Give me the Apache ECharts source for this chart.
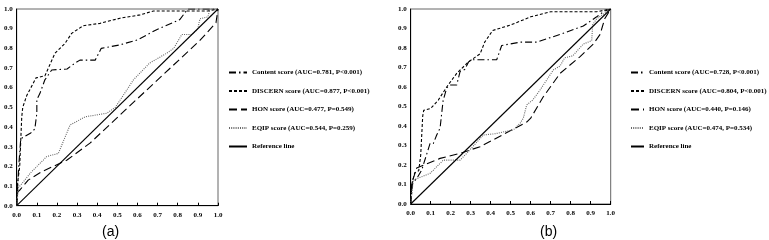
<!DOCTYPE html>
<html>
<head>
<meta charset="utf-8">
<script src="https://cdn.jsdelivr.net/npm/echarts@6/dist/echarts.min.js"></script>
<style>
  html, body { margin: 0; padding: 0; background: #fff; }
  #chart { width: 769px; height: 240px; }
</style>
</head>
<body>
<div id="chart"></div>
<script>
// axis ticks (both panels)
const tickValues = [0, 0.1, 0.2, 0.3, 0.4, 0.5, 0.6, 0.7, 0.8, 0.9, 1.0];

// panel (a): [1 - specificity, sensitivity]
const contentA = [[0,0],[0.005,0.1],[0.01,0.2],[0.02,0.34],[0.07,0.37],[0.09,0.39],[0.1,0.47],[0.1,0.54],[0.115,0.57],[0.14,0.64],[0.174,0.69],[0.25,0.695],[0.29,0.725],[0.314,0.74],[0.39,0.74],[0.42,0.8],[0.51,0.817],[0.6,0.843],[0.695,0.895],[0.81,0.946],[0.85,1.0],[1,1]];
const discernA = [[0,0],[0.005,0.12],[0.015,0.2],[0.02,0.33],[0.025,0.45],[0.03,0.5],[0.05,0.56],[0.096,0.65],[0.14,0.66],[0.19,0.775],[0.24,0.825],[0.273,0.876],[0.33,0.915],[0.414,0.927],[0.513,0.953],[0.613,0.97],[0.68,0.99],[0.95,0.99],[1,1]];
const honA = [[0,0],[0.005,0.07],[0.016,0.08],[0.057,0.13],[0.124,0.173],[0.25,0.232],[0.364,0.318],[0.54,0.487],[0.91,0.84],[0.99,0.93],[1,1]];
const eqipA = [[0,0],[0.008,0.09],[0.074,0.173],[0.132,0.232],[0.149,0.25],[0.207,0.266],[0.265,0.41],[0.34,0.452],[0.447,0.47],[0.49,0.5],[0.58,0.64],[0.66,0.725],[0.745,0.775],[0.78,0.8],[0.82,0.87],[0.87,0.87],[0.9,0.9],[0.91,0.95],[0.95,0.96],[0.96,1],[1,1]];
const namesA = ['Content score (AUC=0.781, P<0.001)', 'DISCERN score (AUC=0.877, P<0.001)', 'HON score (AUC=0.477, P=0.549)', 'EQIP score (AUC=0.544, P=0.259)', 'Reference line'];

// panel (b)
const contentB = [[0,0],[0.01,0.11],[0.03,0.13],[0.055,0.174],[0.097,0.311],[0.113,0.31],[0.13,0.354],[0.147,0.39],[0.155,0.465],[0.162,0.53],[0.18,0.595],[0.197,0.61],[0.23,0.61],[0.247,0.68],[0.27,0.69],[0.29,0.73],[0.313,0.74],[0.43,0.74],[0.455,0.813],[0.547,0.83],[0.63,0.83],[0.747,0.87],[0.863,0.913],[0.93,0.96],[0.97,0.99],[1,1]];
const discernB = [[0,0],[0.005,0.1],[0.02,0.16],[0.04,0.17],[0.05,0.25],[0.06,0.45],[0.065,0.48],[0.1,0.49],[0.138,0.533],[0.18,0.6],[0.23,0.67],[0.29,0.73],[0.347,0.77],[0.37,0.83],[0.41,0.89],[0.5,0.918],[0.6,0.96],[0.7,0.986],[0.93,0.986],[1,1]];
const honB = [[0,0],[0.005,0.106],[0.03,0.185],[0.147,0.234],[0.247,0.26],[0.347,0.294],[0.58,0.42],[0.6,0.44],[0.663,0.55],[0.747,0.67],[0.847,0.756],[0.913,0.82],[0.947,0.87],[0.97,0.95],[1,1]];
const eqipB = [[0,0],[0.013,0.123],[0.097,0.157],[0.163,0.225],[0.247,0.225],[0.28,0.26],[0.363,0.354],[0.42,0.36],[0.513,0.38],[0.547,0.414],[0.563,0.44],[0.58,0.508],[0.61,0.533],[0.647,0.585],[0.68,0.636],[0.713,0.687],[0.747,0.708],[0.77,0.75],[0.81,0.76],[0.863,0.82],[0.905,0.838],[0.91,0.92],[0.93,0.95],[1,1]];
const namesB = ['Content score (AUC=0.728, P<0.001)', 'DISCERN score (AUC=0.804, P<0.001)', 'HON score (AUC=0.440, P=0.146)', 'EQIP score (AUC=0.474, P=0.534)', 'Reference line'];

const refLine = [[0,0],[1,1]];

const serif = 'Liberation Serif';
const styles = [
  { color: '#000', width: 1.1, type: [7, 3, 1.5, 3] },
  { color: '#000', width: 1.1, type: [3, 2] },
  { color: '#000', width: 1.1, type: [8, 4] },
  { color: '#666', width: 1.1, type: [1, 1.2] },
  { color: '#000', width: 1.1, type: 'solid' }
];

function axis(idx, isX) {
  return {
    type: 'value', gridIndex: idx, min: 0, max: 1, interval: 0.1,
    axisLine: { show: true, lineStyle: { color: '#000', width: 1 } },
    axisTick: { show: isX, inside: true, length: 3, lineStyle: { color: '#000' } },
    splitLine: { show: false },
    axisLabel: {
      margin: isX ? 6 : 4, fontFamily: serif, fontWeight: 'bold', fontSize: 7, color: '#000',
      formatter: v => tickValues.includes(Math.round(v * 10) / 10) ? v.toFixed(1) : ''
    }
  };
}

function makeSeries(idx, names, datas) {
  return datas.map((d, i) => ({
    name: names[i], type: 'line', xAxisIndex: idx, yAxisIndex: idx,
    data: d, symbol: 'none', lineStyle: styles[i], itemStyle: { color: styles[i].color },
    animation: false, z: i === 4 ? 3 : 2
  }));
}

function legend(names, left, w) {
  return {
    data: names, orient: 'vertical', left: left, top: 69, padding: 0,
    itemWidth: w, itemHeight: 8, itemGap: 11.5, selectedMode: false,
    itemStyle: { opacity: 0 },
    textStyle: { fontFamily: serif, fontWeight: 'bold', fontSize: 7, color: '#000' }
  };
}

const chart = echarts.init(document.getElementById('chart'), null, { renderer: 'canvas' });
chart.setOption({
  animation: false,
  grid: [
    { left: 16.7, top: 9, width: 201.3, height: 196.7, show: true, borderColor: '#666', borderWidth: 1, backgroundColor: 'transparent' },
    { left: 410.7, top: 9, width: 200, height: 195, show: true, borderColor: '#666', borderWidth: 1, backgroundColor: 'transparent' }
  ],
  xAxis: [axis(0, true), axis(1, true)],
  yAxis: [axis(0, false), axis(1, false)],
  legend: [legend(namesA, 228, 18), legend(namesB, 630, 13)],
  graphic: [
    { type: 'text', left: 102, top: 225, style: { text: '(a)', font: '14px "Liberation Sans"', fill: '#000' } },
    { type: 'text', left: 540, top: 225, style: { text: '(b)', font: '14px "Liberation Sans"', fill: '#000' } }
  ],
  series: [
    ...makeSeries(0, namesA, [contentA, discernA, honA, eqipA, refLine]),
    ...makeSeries(1, namesB, [contentB, discernB, honB, eqipB, refLine])
  ]
});
</script>
</body>
</html>
